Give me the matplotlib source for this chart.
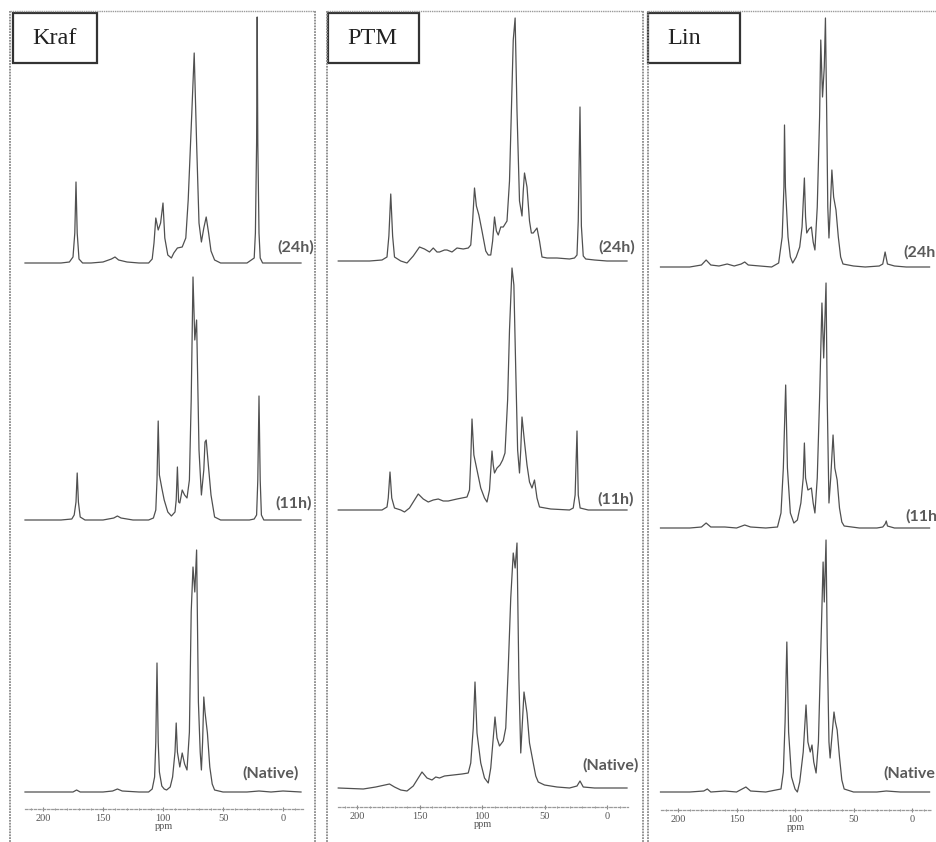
import matplotlib
matplotlib.use("Agg")
import matplotlib.pyplot as plt
from matplotlib.lines import Line2D
from matplotlib.patches import Rectangle
from matplotlib.ticker import MultipleLocator

W, H = 936, 842

# 13C CP/MAS NMR spectra, (ppm, intensity in a.u.) pairs
kraf_24h = [(215, 0), (185, 0), (178, 1), (175, 6), (173.5, 30), (172.5, 81), (171.5, 30), (170, 4),
            (167, 0), (160, 0), (150, 1), (143, 4), (140, 6), (137, 3), (130, 1), (120, 0), (112, 0),
            (109, 4), (107.5, 20), (106, 45), (104, 33), (102, 40), (100, 60), (98.5, 25), (96, 8),
            (93, 5), (91, 10), (88, 15), (84, 16), (81, 25), (79, 63), (76, 150), (74, 210), (72, 120),
            (70, 40), (68, 21), (66, 35), (64, 46), (62, 30), (60, 12), (57, 3), (52, 0), (40, 0),
            (30, 0), (24, 5), (23, 30), (22, 120), (21.5, 246), (21, 120), (20, 30), (19, 5), (17, 0),
            (5, 0), (-5, 0), (-15, 0)]
kraf_11h = [(215, 0), (185, 0), (176, 1), (174, 5), (172.5, 18), (171.5, 47), (170.5, 18), (169, 3),
            (165, 0), (150, 0), (141, 2), (138, 4), (135, 2), (125, 0), (112, 0), (108, 2), (106, 10),
            (105, 40), (104, 99), (103, 45), (101, 32), (99, 20), (96, 8), (93, 4), (90, 8), (89, 20),
            (88, 53), (87, 18), (86, 17), (84, 30), (82, 25), (80, 22), (78, 40), (76.5, 120),
            (75, 243), (73.5, 180), (72, 200), (70, 70), (68, 25), (66, 50), (65, 78), (64, 80),
            (62, 52), (60, 25), (57, 3), (52, 0), (40, 0), (28, 0), (24, 1), (22, 5), (21, 40),
            (20, 124), (19, 40), (18, 5), (16, 0), (10, 0), (0, 0), (-15, 0)]
kraf_native = [(215, 0), (190, 0), (175, 0), (172, 2), (169, 0), (150, 0), (142, 1), (138, 3), (134, 1),
               (120, 0), (112, 0), (109, 3), (107, 15), (106, 50), (105, 129), (104, 50), (103, 20),
               (101, 6), (99, 3), (97, 2), (94, 5), (92, 15), (90, 40), (89, 69), (88, 40), (86, 25),
               (84, 39), (82, 28), (80, 22), (78, 60), (76.5, 180), (75, 225), (73.5, 200), (72, 242),
               (70.5, 90), (69, 40), (68, 22), (67, 50), (66, 95), (65, 80), (63, 59), (61, 25),
               (59, 8), (57, 2), (50, 0), (30, 0), (20, 1), (10, 0), (0, 1), (-15, 0)]

ptm_24h = [(215, 0), (190, 0), (180, 1), (176, 4), (174.5, 25), (173, 67), (171.5, 25), (170, 4),
           (165, 0), (160, -2), (155, 5), (150, 14), (146, 12), (142, 9), (139, 13), (136, 9),
           (134, 9), (130, 11), (128, 11), (126, 10), (124, 9), (121, 12), (120, 13), (115, 12),
           (111, 13), (109, 16), (107.5, 40), (106, 73), (104.5, 55), (102.5, 46), (100, 30),
           (97, 10), (95, 6), (93, 6), (91.5, 20), (90, 44), (88.5, 30), (87, 26), (85, 34), (83, 34),
           (80, 40), (78, 80), (76.5, 150), (75, 221), (73.5, 243), (72, 150), (70, 60), (68, 45),
           (67, 70), (66, 88), (64, 74), (62, 40), (60.5, 28), (59, 28), (56, 33), (54, 20), (52, 4),
           (48, 3), (40, 3), (30, 2), (26, 3), (24, 6), (23, 40), (21.6, 154), (20.5, 35), (19, 5),
           (17, 2), (10, 1), (0, 0), (-16, 0)]
ptm_11h = [(215, 0), (190, 0), (180, 0), (176, 3), (175, 12), (173.6, 38), (172.2, 12), (170, 2),
           (165, 0), (162, -2), (158, 2), (154, 10), (151, 16), (147, 11), (143, 8), (139, 10),
           (135, 11), (131, 9), (127, 9), (120, 11), (112, 13), (110, 20), (109, 50), (108, 91),
           (106.5, 55), (104, 40), (101, 22), (98, 12), (96, 8), (94, 20), (92, 59), (91, 45),
           (90, 37), (88, 42), (85.6, 45), (83.5, 50), (81.6, 57), (79.5, 110), (78, 180), (76, 242),
           (74.5, 225), (73, 140), (71.5, 60), (70, 37), (69, 60), (68, 93), (66, 68), (64, 45),
           (62, 28), (60, 22), (58, 30), (56, 12), (54, 3), (45, 1), (30, 0), (27, 2), (25.5, 15),
           (24, 79), (23, 15), (21.5, 2), (15, 0), (5, 0), (-16, 0)]
ptm_native = [(215, 0), (195, -1), (185, 1), (174, 4), (170, 1), (165, -2), (160, -3), (155, 2),
              (148, 16), (144, 10), (140, 8), (137, 11), (134, 10), (130, 12), (123, 13), (116, 14),
              (111, 15), (109, 25), (107, 60), (105.6, 106), (104, 55), (101, 25), (98, 10), (95, 5),
              (93, 20), (91, 50), (89.6, 71), (88, 50), (86, 42), (83, 47), (81, 60), (79, 120),
              (77, 190), (75, 235), (73.5, 220), (72, 245), (70.5, 110), (69, 35), (67.5, 70),
              (66.4, 96), (64, 75), (62, 45), (59, 25), (57, 12), (55, 6), (50, 3), (40, 1), (30, 0),
              (24, 2), (21.6, 7), (19, 1), (10, 0), (0, 0), (-16, 0)]

lin_24h = [(215, 0), (190, 0), (180, 2), (176, 7), (172, 2), (165, 1), (158, 3), (152, 1), (146, 3),
           (143, 5), (140, 2), (130, 1), (120, 0), (114, 4), (111, 30), (109.5, 80), (109, 142),
           (108.2, 80), (106, 30), (104, 10), (102, 4), (99, 10), (96, 20), (94, 40), (92, 89),
           (91, 50), (90, 34), (88, 38), (86, 40), (84.5, 25), (83, 17), (81, 60), (79, 150),
           (78, 227), (76.5, 170), (75, 200), (74, 249), (73, 160), (72, 60), (71, 29), (70, 55),
           (68.5, 97), (67, 70), (65, 57), (63, 30), (61, 10), (59, 3), (50, 1), (40, 0), (28, 1),
           (25, 3), (23, 15), (21, 3), (15, 1), (5, 0), (-15, 0)]
lin_11h = [(215, 0), (190, 0), (180, 1), (176, 5), (172, 1), (160, 1), (150, 0), (143, 3), (138, 1),
           (125, 0), (115, 1), (112, 15), (110, 60), (108, 143), (106.5, 60), (104, 15), (101, 5),
           (98, 8), (95, 25), (93, 50), (92, 85), (91, 50), (89, 38), (86, 40), (84.5, 25), (83, 15),
           (81, 50), (79, 130), (77, 225), (75.5, 170), (73.5, 245), (72.5, 130), (71, 25),
           (69.5, 50), (67.5, 93), (66, 60), (64, 48), (62, 20), (60, 6), (58, 2), (45, 0), (30, 0),
           (25, 1), (23, 4), (22, 7), (21, 2), (15, 0), (5, 0), (-15, 0)]
lin_native = [(215, 0), (190, 0), (178, 1), (175, 3), (172, 0), (160, 1), (150, 0), (142, 5), (138, 1),
              (125, 0), (112, 3), (110, 20), (108.5, 70), (107, 150), (105.5, 60), (103, 15),
              (100, 3), (98, 0), (96, 10), (93, 40), (90.6, 87), (89, 50), (87, 40), (85.5, 47),
              (84, 30), (82, 19), (80, 50), (78, 140), (76, 230), (75, 190), (73.5, 252), (72.5, 150),
              (71, 50), (70, 34), (68.5, 55), (66.7, 80), (65.5, 70), (64, 62), (62, 35), (60, 12),
              (58, 3), (50, 0), (30, 0), (22, 1), (10, 0), (-15, 0)]

panel_names = ["Kraf", "PTM", "Lin"]
# the right-hand panel runs off the edge of the figure, so its labels lose their last character
time_labels = [["(24h)", "(11h)", "(Native)"],
               ["(24h)", "(11h)", "(Native)"],
               ["(24h", "(11h", "(Native"]]
spectra = [[kraf_24h, kraf_11h, kraf_native],
           [ptm_24h, ptm_11h, ptm_native],
           [lin_24h, lin_11h, lin_native]]
tick_values = [200, 150, 100, 50, 0]

# layout, in pixels from the top-left corner
frames = [(10, 315), (327, 643), (648, 960)]
frame_top = 11
axes_x = [(25, 303.4), (338.25, 628.25), (660.5, 931.9)]
axis_y = [809, 807, 810]
baselines = [(263, 520, 792), (261, 510, 788), (267, 528, 792)]
label_boxes = [(13, 97), (328, 419), (648, 740)]
time_pos = [[(277, 247), (275, 503), (242, 773)],
            [(598, 247), (597, 499), (582, 765)],
            [(903, 252), (905, 516), (883, 773)]]

fig = plt.figure(figsize=(W / 100, H / 100), dpi=100)
fig.patch.set_facecolor("white")

def fx(x):
    return x / W

def fy(y):
    return 1 - y / H

frame_color = "#8a8a8a"
for (xl, xr) in frames:
    fig.add_artist(Line2D([fx(xl), fx(xl)], [fy(frame_top), fy(H + 5)], color=frame_color,
                          lw=1.3, ls=(0, (1, 0.6)), transform=fig.transFigure))
    fig.add_artist(Line2D([fx(xr), fx(xr)], [fy(frame_top), fy(H + 5)], color=frame_color,
                          lw=1.3, ls=(0, (1, 0.6)), transform=fig.transFigure))
    fig.add_artist(Line2D([fx(xl), fx(xr)], [fy(frame_top), fy(frame_top)], color="#9a9a9a",
                          lw=1.0, ls=(0, (1, 0.6)), transform=fig.transFigure))

for i in range(3):
    x0, x1 = axes_x[i]
    ay = axis_y[i]
    ax = fig.add_axes([fx(x0), fy(ay), (x1 - x0) / W, (ay - frame_top) / H])
    ax.set_facecolor("none")
    ax.set_xlim(215, -17)
    ax.set_ylim(0, ay - frame_top)
    for s in ["top", "left", "right"]:
        ax.spines[s].set_visible(False)
    ax.spines["bottom"].set_color("#9a9a9a")
    ax.spines["bottom"].set_linestyle((0, (2, 1.5)))
    ax.spines["bottom"].set_linewidth(0.9)
    ax.set_yticks([])
    ax.set_xticks(tick_values)
    ax.xaxis.set_minor_locator(MultipleLocator(10))
    ax.tick_params(axis="x", which="major", length=2.5, width=0.8, color="#888888",
                   direction="inout", pad=2.5, labelsize=7.5, labelcolor="#555555")
    ax.tick_params(axis="x", which="minor", length=2, width=0.7, color="#999999", direction="inout")
    for lbl in ax.get_xticklabels():
        lbl.set_family("Liberation Serif")
    ax.set_xlabel("ppm", fontsize=7.5, color="#555555", family="Liberation Serif", labelpad=-1)

    for j, spec in enumerate(spectra[i]):
        offset = ay - baselines[i][j]
        ppm = [p for p, _ in spec]
        inten = [v + offset for _, v in spec]
        ax.plot(ppm, inten, color="#505050", lw=0.9, solid_joinstyle="round", clip_on=False)

    # panel label box
    bl, br = label_boxes[i]
    fig.add_artist(Rectangle((fx(bl), fy(63)), (br - bl) / W, 50 / H, fill=False,
                             edgecolor="#333333", lw=1.6, transform=fig.transFigure))
    fig.text(fx(bl + 19), fy(38), panel_names[i], ha="left", va="center", fontsize=17.5,
             family="Liberation Serif", color="#222222")

    for j, lab in enumerate(time_labels[i]):
        tx, ty = time_pos[i][j]
        fig.text(fx(tx), fy(ty), lab, ha="left", va="center", fontsize=11.5,
                 family="Lato", weight="bold", color="#5a5a5a")

fig.savefig("out.png", dpi=100)
